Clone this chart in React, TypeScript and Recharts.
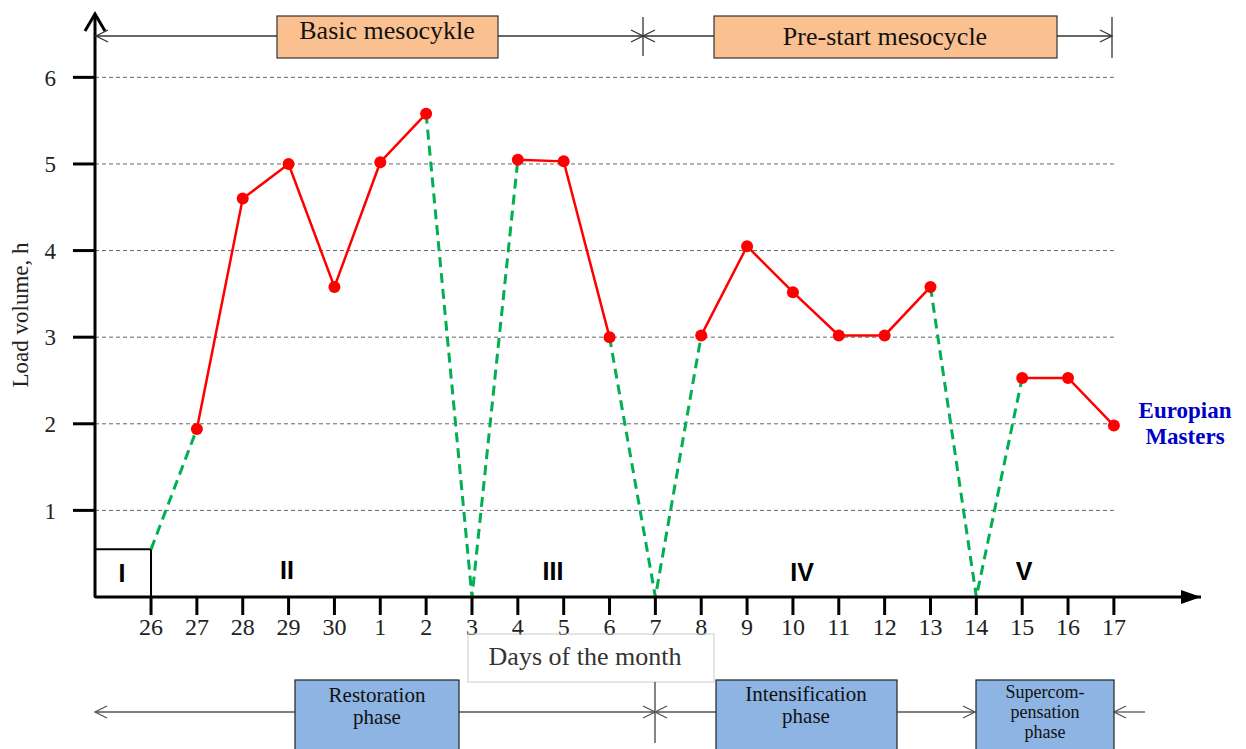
import React from "react";
import {
  LineChart,
  Line,
  XAxis,
  YAxis,
  ReferenceLine,
  ReferenceArea,
} from "recharts";

// days of the month on the x axis (26 of previous month .. 17)
const days = ["26", "27", "28", "29", "30", "1", "2", "3", "4", "5", "6", "7", "8", "9", "10", "11", "12", "13", "14", "15", "16", "17"];

// load volume (h) within microcycles (red solid line)
const loadVolume = [null, 1.94, 4.6, 5.0, 3.58, 5.02, 5.58, null, 5.05, 5.03, 3.0, null, 3.02, 4.05, 3.52, 3.02, 3.02, 3.58, null, 2.53, 2.53, 1.98];

// transitions between microcycles (green dashed line)
const transitionLoad = [0.55, 1.94, null, null, null, null, 5.58, 0, 5.05, null, 3.0, 0, 3.02, null, null, null, null, 3.58, 0, 2.53, null, null];

const yTicks = [1, 2, 3, 4, 5, 6];

const data = days.map((d, i) => ({
  x: i,
  day: d,
  load: loadVolume[i],
  transition: transitionLoad[i],
}));

const serif = "'Liberation Serif', 'Times New Roman', serif";
const sans = "'Liberation Sans', Arial, sans-serif";

function OpenHead({ x, y, dir, size = 12, spread = 6, color = "#333" }: any) {
  const bx = x - dir * size;
  return (
    <polyline
      points={`${bx},${y - spread} ${x},${y} ${bx},${y + spread}`}
      fill="none"
      stroke={color}
      strokeWidth={1.3}
    />
  );
}

function Overlay() {
  const line = "#333";
  return (
    <svg
      width={1246}
      height={749}
      style={{ position: "absolute", left: 0, top: 0, pointerEvents: "none" }}
    >
      {/* axis arrows */}
      <polyline points="85,31 95,14 105,31" fill="none" stroke="#000" strokeWidth={3} />
      <polygon points="1201,597 1181,590 1181,604" fill="#000" />

      <text
        x={20}
        y={315}
        transform="rotate(-90 20 315)"
        textAnchor="middle"
        dominantBaseline="central"
        fontFamily={serif}
        fontSize={23}
        fill="#222"
      >
        Load volume, h
      </text>

      {/* mesocycles */}
      <line x1={95} y1={36} x2={277} y2={36} stroke={line} strokeWidth={1.3} />
      <line x1={498} y1={36} x2={714} y2={36} stroke={line} strokeWidth={1.3} />
      <line x1={1057} y1={36} x2={1112} y2={36} stroke={line} strokeWidth={1.3} />
      <line x1={643} y1={17} x2={643} y2={56} stroke={line} strokeWidth={1.3} />
      <line x1={1112} y1={17} x2={1112} y2={58} stroke={line} strokeWidth={1.3} />
      <OpenHead x={96} y={36} dir={-1} />
      <OpenHead x={643} y={36} dir={1} />
      <OpenHead x={643} y={36} dir={-1} />
      <OpenHead x={1112} y={36} dir={1} />
      <rect x={277} y={16} width={221} height={42} fill="#fac090" stroke="#333" strokeWidth={1.2} />
      <text x={387} y={39} textAnchor="middle" fontFamily={serif} fontSize={26} fill="#111">
        Basic mesocykle
      </text>
      <rect x={714} y={16} width={343} height={42} fill="#fac090" stroke="#333" strokeWidth={1.2} />
      <text x={885} y={45} textAnchor="middle" fontFamily={serif} fontSize={26} fill="#111">
        Pre-start mesocycle
      </text>

      {/* microcycles */}
      <g fontFamily={sans} fontWeight="bold" fontSize={25} fill="#000" textAnchor="middle">
        <text x={122} y={582}>I</text>
        <text x={287} y={579}>II</text>
        <text x={553} y={580}>III</text>
        <text x={802} y={581}>IV</text>
        <text x={1024} y={580}>V</text>
      </g>

      <text x={1185} y={418} textAnchor="middle" fontFamily={serif} fontWeight="bold" fontSize={23} fill="#0000c8">
        Europian
      </text>
      <text x={1185} y={444} textAnchor="middle" fontFamily={serif} fontWeight="bold" fontSize={23} fill="#0000c8">
        Masters
      </text>

      {/* axis title */}
      <rect x={468} y={634} width={246} height={48} fill="none" stroke="#ccc" strokeWidth={1} />
      <text x={585} y={665} textAnchor="middle" fontFamily={serif} fontSize={26} fill="#333">
        Days of the month
      </text>

      {/* phases */}
      <line x1={95} y1={712} x2={295} y2={712} stroke="#555" strokeWidth={1.3} />
      <line x1={459} y1={712} x2={716} y2={712} stroke="#555" strokeWidth={1.3} />
      <line x1={897} y1={712} x2={975} y2={712} stroke="#555" strokeWidth={1.3} />
      <line x1={1114} y1={712} x2={1145} y2={712} stroke="#555" strokeWidth={1.3} />
      <line x1={655} y1={682} x2={655} y2={743} stroke="#333" strokeWidth={1.2} />
      <OpenHead x={95} y={712} dir={-1} color="#555" />
      <OpenHead x={655} y={712} dir={1} color="#555" />
      <OpenHead x={655} y={712} dir={-1} color="#555" />
      <OpenHead x={975} y={712} dir={1} color="#555" />
      <OpenHead x={1114} y={712} dir={-1} color="#555" />

      <rect x={295} y={680} width={164} height={75} fill="#8eb4e3" stroke="#222" strokeWidth={1.2} />
      <text x={377} y={702} textAnchor="middle" fontFamily={serif} fontSize={21} fill="#111">Restoration</text>
      <text x={377} y={724} textAnchor="middle" fontFamily={serif} fontSize={21} fill="#111">phase</text>

      <rect x={716} y={680} width={181} height={75} fill="#8eb4e3" stroke="#222" strokeWidth={1.2} />
      <text x={806} y={701} textAnchor="middle" fontFamily={serif} fontSize={21} fill="#111">Intensification</text>
      <text x={806} y={723} textAnchor="middle" fontFamily={serif} fontSize={21} fill="#111">phase</text>

      <rect x={976} y={680} width={138} height={75} fill="#8eb4e3" stroke="#222" strokeWidth={1.2} />
      <text x={1045} y={698} textAnchor="middle" fontFamily={serif} fontSize={18} fill="#111">Supercom-</text>
      <text x={1045} y={718} textAnchor="middle" fontFamily={serif} fontSize={18} fill="#111">pensation</text>
      <text x={1045} y={738} textAnchor="middle" fontFamily={serif} fontSize={18} fill="#111">phase</text>
    </svg>
  );
}

export default function App() {
  return (
    <div style={{ position: "absolute", left: 0, top: 0, width: 1246, height: 749, background: "#fff" }}>
      <LineChart
        width={1246}
        height={749}
        data={data}
        margin={{ top: 15, right: 45, left: 0, bottom: 112 }}
      >
        <XAxis
          type="number"
          dataKey="x"
          domain={[-1.222, 22.9]}
          ticks={days.map((_, i) => i)}
          tickFormatter={(i: number) => days[i]}
          allowDataOverflow
          height={40}
          tickSize={18}
          tickMargin={3}
          axisLine={{ stroke: "#000", strokeWidth: 3 }}
          tickLine={{ stroke: "#000", strokeWidth: 3 }}
          tick={{ fontFamily: serif, fontSize: 24, fill: "#222" }}
        />
        <YAxis
          type="number"
          domain={[0, 6.72]}
          ticks={yTicks}
          allowDataOverflow
          width={95}
          tickSize={22}
          tickMargin={17}
          axisLine={{ stroke: "#000", strokeWidth: 3 }}
          tickLine={{ stroke: "#000", strokeWidth: 3 }}
          tick={{ fontFamily: serif, fontSize: 23, fill: "#222" }}
        />
        {yTicks.map((v) => (
          <ReferenceLine
            key={v}
            segment={[
              { x: -1.222, y: v },
              { x: 21, y: v },
            ]}
            stroke="#666"
            strokeWidth={1}
            strokeDasharray="4 3"
          />
        ))}
        <ReferenceArea
          x1={-1.222}
          x2={0}
          y1={0}
          y2={transitionLoad[0] as number}
          fill="none"
          stroke="#000"
          strokeWidth={2}
        />
        <Line
          type="linear"
          dataKey="transition"
          stroke="#00b050"
          strokeWidth={3}
          strokeDasharray="10 6"
          dot={false}
          activeDot={false}
          connectNulls={false}
          isAnimationActive={false}
        />
        <Line
          type="linear"
          dataKey="load"
          stroke="#ff0000"
          strokeWidth={2.5}
          dot={{ r: 6, fill: "#ff0000", stroke: "#ff0000", strokeWidth: 0 }}
          activeDot={false}
          connectNulls={false}
          isAnimationActive={false}
        />
      </LineChart>
      <Overlay />
    </div>
  );
}
